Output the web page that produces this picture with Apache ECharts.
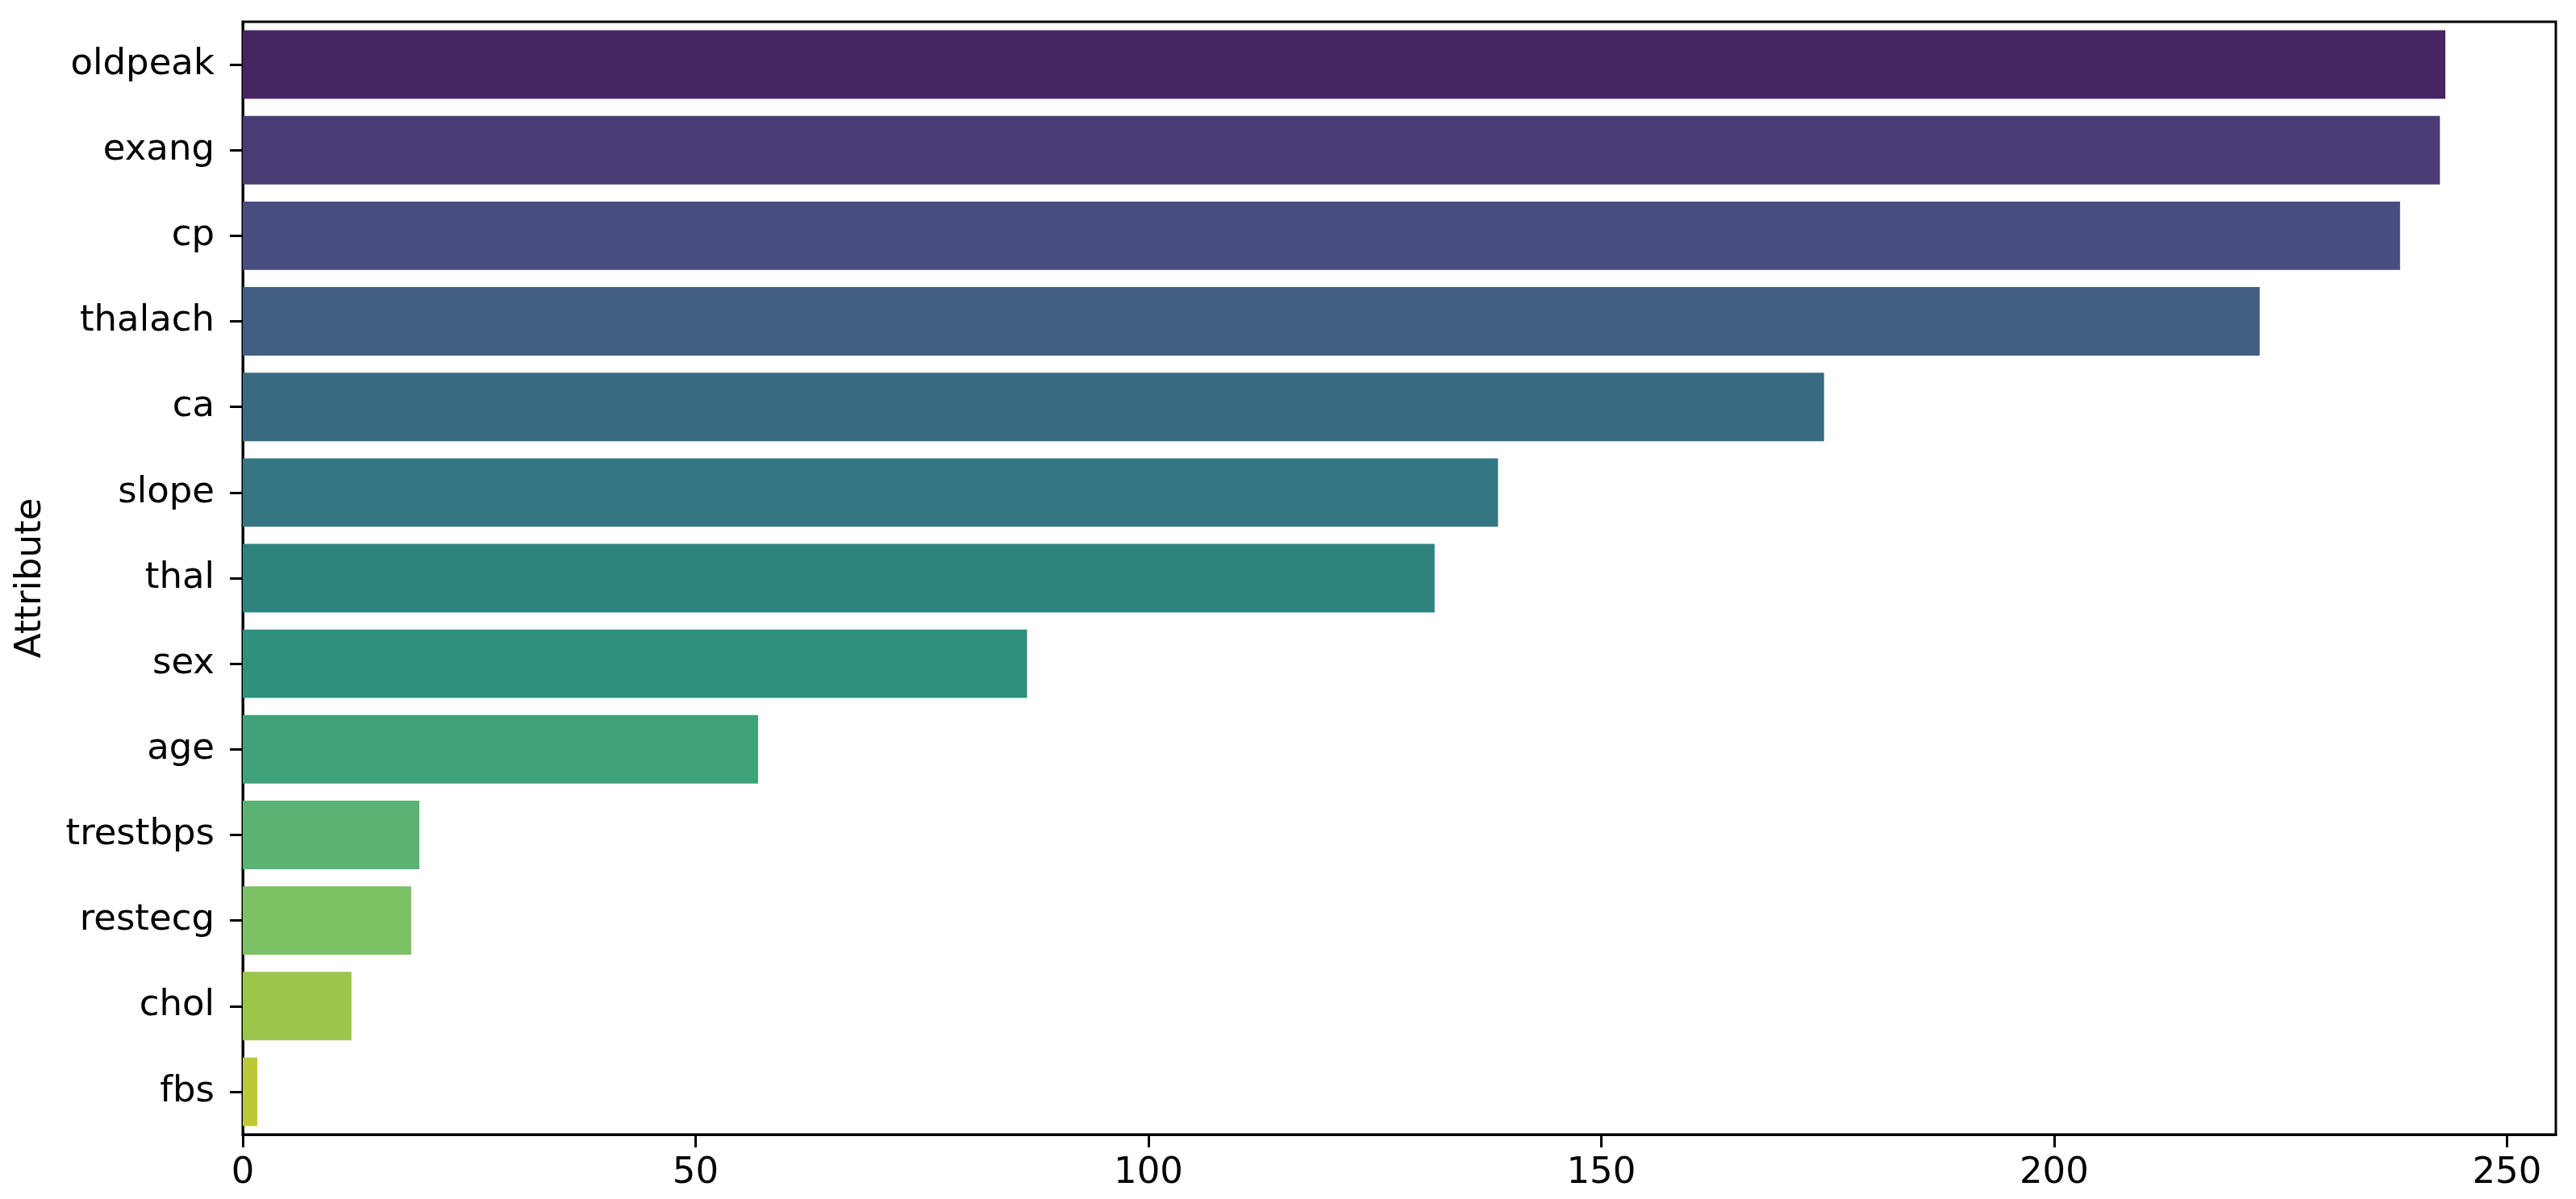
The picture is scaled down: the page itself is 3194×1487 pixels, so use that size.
<!DOCTYPE html>
<html>
<head>
<meta charset="utf-8">
<script src="https://cdn.jsdelivr.net/npm/echarts@6/dist/echarts.min.js"></script>
<style>
  html, body { margin: 0; padding: 0; background: #fff; }
  #chart { width: 3194px; height: 1487px; }
</style>
</head>
<body>
<div id="chart"></div>
<script>
// ---- data ----
const attributes = ['oldpeak', 'exang', 'cp', 'thalach', 'ca', 'slope', 'thal', 'sex', 'age', 'trestbps', 'restecg', 'chol', 'fbs'];
const scores = [243.2, 242.6, 238.2, 222.7, 174.6, 138.6, 131.6, 86.6, 56.9, 19.5, 18.6, 12.0, 1.6];
const xTicks = [0, 50, 100, 150, 200, 250];
const yAxisName = 'Attribute';

// ---- styling: viridis samples, desaturated like seaborn (0.75) ----
const viridisBase = ['#481b6d', '#46327e', '#3f4788', '#365c8d', '#2e6e8e', '#277f8e', '#21918c',
                     '#1fa187', '#2eb37c', '#4cc26c', '#75d054', '#a2da37', '#d2e21b'];
function desat(hex, prop) {
  let r = parseInt(hex.slice(1, 3), 16) / 255, g = parseInt(hex.slice(3, 5), 16) / 255, b = parseInt(hex.slice(5, 7), 16) / 255;
  const mx = Math.max(r, g, b), mn = Math.min(r, g, b);
  const l = (mx + mn) / 2;
  let h = 0, s = 0;
  if (mx !== mn) {
    const d = mx - mn;
    s = l > 0.5 ? d / (2 - mx - mn) : d / (mx + mn);
    if (mx === r) h = ((g - b) / d + (g < b ? 6 : 0));
    else if (mx === g) h = (b - r) / d + 2;
    else h = (r - g) / d + 4;
    h /= 6;
  }
  s *= prop;
  function hue2rgb(p, q, t) {
    if (t < 0) t += 1; if (t > 1) t -= 1;
    if (t < 1 / 6) return p + (q - p) * 6 * t;
    if (t < 1 / 2) return q;
    if (t < 2 / 3) return p + (q - p) * (2 / 3 - t) * 6;
    return p;
  }
  let rr, gg, bb;
  if (s === 0) { rr = gg = bb = l; }
  else {
    const q = l < 0.5 ? l * (1 + s) : l + s - l * s;
    const p = 2 * l - q;
    rr = hue2rgb(p, q, h + 1 / 3); gg = hue2rgb(p, q, h); bb = hue2rgb(p, q, h - 1 / 3);
  }
  const toHex = v => Math.round(v * 255).toString(16).padStart(2, '0');
  return '#' + toHex(rr) + toHex(gg) + toHex(bb);
}
const barColors = viridisBase.map(c => desat(c, 0.75));

const FONT = 'DejaVu Sans';
const chart = echarts.init(document.getElementById('chart'), null, { renderer: 'canvas' });
chart.setOption({
  animation: false,
  backgroundColor: '#ffffff',
  grid: {
    left: 301, right: 25, top: 27, bottom: 80,
    show: true, borderColor: '#000', borderWidth: 3, backgroundColor: 'transparent'
  },
  xAxis: {
    type: 'value',
    min: 0,
    max: 255.4,
    interval: 50,
    splitLine: { show: false },
    axisLine: { show: true, lineStyle: { color: '#000', width: 3 } },
    axisTick: { show: true, length: 16, lineStyle: { color: '#000', width: 3 }, customValues: xTicks },
    axisLabel: { color: '#000', fontFamily: FONT, fontSize: 45, margin: 26, customValues: xTicks }
  },
  yAxis: {
    type: 'category',
    data: attributes,
    inverse: true,
    name: yAxisName,
    nameLocation: 'middle',
    nameGap: 240,
    nameTextStyle: { color: '#000', fontFamily: FONT, fontSize: 45 },
    axisLine: { show: true, lineStyle: { color: '#000', width: 3 } },
    axisTick: { show: true, alignWithLabel: true, length: 16, lineStyle: { color: '#000', width: 3 } },
    axisLabel: { color: '#000', fontFamily: FONT, fontSize: 45, margin: 35 },
    splitLine: { show: false }
  },
  series: [{
    type: 'bar',
    data: scores.map((v, i) => ({ value: v, itemStyle: { color: barColors[i] } })),
    barWidth: '80%',
    itemStyle: { borderWidth: 0 }
  }]
});
</script>
</body>
</html>
